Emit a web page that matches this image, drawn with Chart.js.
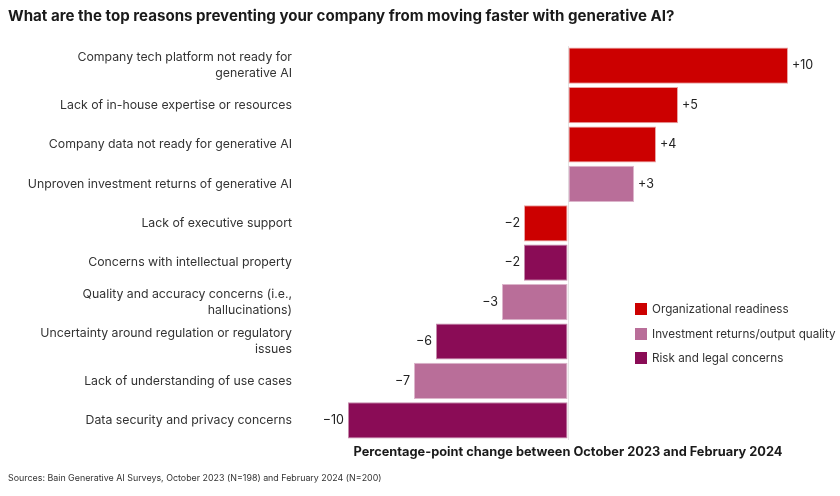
<!DOCTYPE html>
<html lang="en">
<head>
    <meta charset="UTF-8">
    <title>Reasons preventing faster generative AI adoption</title>
    <style>
        body {
            margin: 0;
            background: #fff;
            font-family: Inter, "Noto Sans", sans-serif;
            color: #222;
        }
        #wrap {
            position: relative;
            width: 840px;
            height: 496px;
        }
        #title {
            position: absolute;
            left: 8px;
            top: 6px;
            font-size: 15.1px;
            font-weight: 700;
            color: #1a1a1a;
            white-space: nowrap;
        }
        #source {
            position: absolute;
            left: 8px;
            top: 472px;
            font-size: 8.9px;
            color: #333;
            white-space: nowrap;
        }
        #legend {
            position: absolute;
            left: 635px;
            top: 297px;
            font-size: 11.7px;
            color: #333;
            white-space: nowrap;
        }
        .item {
            display: flex;
            align-items: center;
            height: 24.5px;
        }
        .box {
            width: 12px;
            height: 12px;
            margin-right: 5px;
        }
        canvas { position: absolute; left: 0; top: 0; }
    </style>
</head>
<body>
<div id="wrap">
    <canvas id="chart" width="840" height="496"></canvas>
    <div id="title">What are the top reasons preventing your company from moving faster with generative AI?</div>
    <div id="legend"></div>
    <div id="source">Sources: Bain Generative AI Surveys, October 2023 (N=198) and February 2024 (N=200)</div>
</div>

<script src="https://cdn.jsdelivr.net/npm/chart.js"></script>
<script>
    // categories (multi-line labels as arrays)
    const categories = [
        ['Company tech platform not ready for', 'generative AI'],
        'Lack of in-house expertise or resources',
        'Company data not ready for generative AI',
        'Unproven investment returns of generative AI',
        'Lack of executive support',
        'Concerns with intellectual property',
        ['Quality and accuracy concerns (i.e.,', 'hallucinations)'],
        ['Uncertainty around regulation or regulatory', 'issues'],
        'Lack of understanding of use cases',
        'Data security and privacy concerns'
    ];

    // percentage-point change, split by group
    const orgReadiness = [10, 5, 4, null, -2, null, null, null, null, null];
    const investQuality = [null, null, null, 3, null, null, -3, null, -7, null];
    const riskLegal = [null, null, null, null, null, -2, null, -6, null, -10];

    const groupNames = ['Organizational readiness', 'Investment returns/output quality', 'Risk and legal concerns'];
    const groupColors = ['#cc0000', '#b96e99', '#8a0c56'];
    const groupBorders = ['#e9a3a3', '#dcb5cb', '#c48aab'];

    const xTitle = 'Percentage-point change between October 2023 and February 2024';

    function fmt(v) {
        return v > 0 ? '+' + v : '\u2212' + Math.abs(v);
    }

    // value labels beside each bar
    const valueLabels = {
        id: 'valueLabels',
        afterDatasetsDraw(chart) {
            const ctx = chart.ctx;
            ctx.save();
            ctx.font = '12.5px Inter, "Noto Sans", sans-serif';
            ctx.fillStyle = '#222';
            ctx.textBaseline = 'middle';
            chart.data.datasets.forEach((ds, i) => {
                chart.getDatasetMeta(i).data.forEach((bar, j) => {
                    const v = ds.data[j];
                    if (v === null) return;
                    if (v > 0) {
                        ctx.textAlign = 'left';
                        ctx.fillText(fmt(v), bar.x + 4, bar.y);
                    } else {
                        ctx.textAlign = 'right';
                        ctx.fillText(fmt(v), bar.x - 4, bar.y);
                    }
                });
            });
            ctx.restore();
        }
    };

    const datasets = [orgReadiness, investQuality, riskLegal].map((d, i) => ({
        label: groupNames[i],
        data: d,
        backgroundColor: groupColors[i],
        borderColor: groupBorders[i],
        borderWidth: 1,
        borderSkipped: false,
        categoryPercentage: 1,
        barPercentage: 0.92
    }));

    new Chart(document.getElementById('chart').getContext('2d'), {
        type: 'bar',
        data: { labels: categories, datasets: datasets },
        options: {
            indexAxis: 'y',
            responsive: false,
            animation: false,
            layout: { padding: { left: 8, right: 52, top: 46, bottom: 36 } },
            plugins: {
                legend: { display: false },
                tooltip: { enabled: false }
            },
            scales: {
                x: {
                    min: -10,
                    max: 10,
                    stacked: true,
                    ticks: { display: false, stepSize: 10 },
                    border: { display: false },
                    grid: {
                        drawTicks: false,
                        color: c => (c.tick && c.tick.value === 0) ? '#e4e4e4' : 'rgba(0,0,0,0)'
                    },
                    title: {
                        display: true,
                        text: xTitle,
                        color: '#1a1a1a',
                        font: { family: 'Inter, "Noto Sans", sans-serif', size: 12.8, weight: 'bold' },
                        padding: { top: 0, bottom: 0 }
                    },
                    afterFit(axis) {
                        axis.height = 20;
                        axis.paddingLeft = 0;
                        axis.paddingRight = 0;
                    }
                },
                y: {
                    stacked: true,
                    border: { display: false },
                    grid: { display: false, drawTicks: false },
                    ticks: {
                        padding: 56,
                        color: '#333',
                        font: { family: 'Inter, "Noto Sans", sans-serif', size: 12.3, lineHeight: 1.3 }
                    },
                    afterFit(axis) {
                        axis.width = 340;
                        axis.paddingTop = 0;
                        axis.paddingBottom = 0;
                    }
                }
            }
        },
        plugins: [valueLabels]
    });

    // legend
    const legend = document.getElementById('legend');
    groupNames.forEach((name, i) => {
        const row = document.createElement('div');
        row.className = 'item';
        row.innerHTML = '<span class="box" style="background:' + groupColors[i] + '"></span>' + name;
        legend.appendChild(row);
    });
</script>
</body>
</html>
